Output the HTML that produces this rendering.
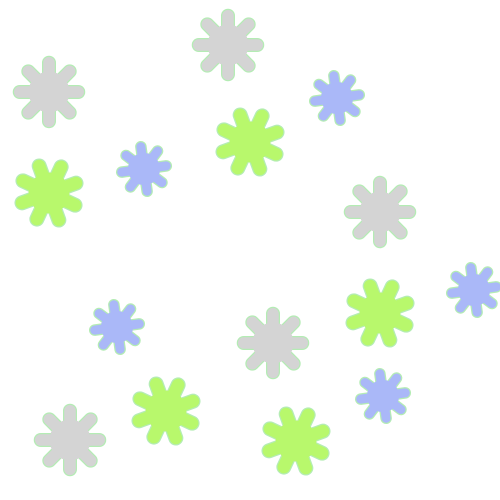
<!DOCTYPE html>
<html><head><meta charset="utf-8"><style>html,body{margin:0;padding:0;background:#fff}svg{display:block}</style></head>
<body>
<svg id="c" width="500" height="500" viewBox="0 0 500 500"></svg>
<script>
const gx=[228,49,380,273,70], gy=[45,92,212,343,440];
const lx=[250,49,380,166,296], ly=[142,193,313,411,441];
const bx=[337,144,117,474,383], by=[98,169,327,290,396];
const NS="http://www.w3.org/2000/svg";
const svg=document.getElementById('c');
function flower(cx,cy,r,w,rot,fill,name){
  const g=document.createElementNS(NS,'g');
  
  
  [['#b4ecb4',w+2.5,r*0.55+1.2],[fill,w,r*0.55]].forEach(([col,sw,cr])=>{
    for(let i=0;i<8;i++){
      const a=(rot+i*45)*Math.PI/180;
      const l=document.createElementNS(NS,'line');
      l.setAttribute('x1',cx);l.setAttribute('y1',cy);
      l.setAttribute('x2',cx+Math.sin(a)*(r-w/2));l.setAttribute('y2',cy-Math.cos(a)*(r-w/2));
      l.setAttribute('stroke',col);l.setAttribute('stroke-width',sw);l.setAttribute('stroke-linecap','round');
      g.appendChild(l);
    }
    const c=document.createElementNS(NS,'circle');
    c.setAttribute('cx',cx);c.setAttribute('cy',cy);c.setAttribute('r',cr);c.setAttribute('fill',fill);
    g.appendChild(c);
  });
  svg.appendChild(g);
}
gx.forEach((x,i)=>flower(x,gy[i],35,11.5,0,'#d4d4d4','gray-flower'));
lx.forEach((x,i)=>flower(x,ly[i],35,12.5,-20,'#b8f86c','green-flower'));
bx.forEach((x,i)=>flower(x,by[i],27,9,-8,'#aab8f8','blue-flower'));
</script>
</body></html>
